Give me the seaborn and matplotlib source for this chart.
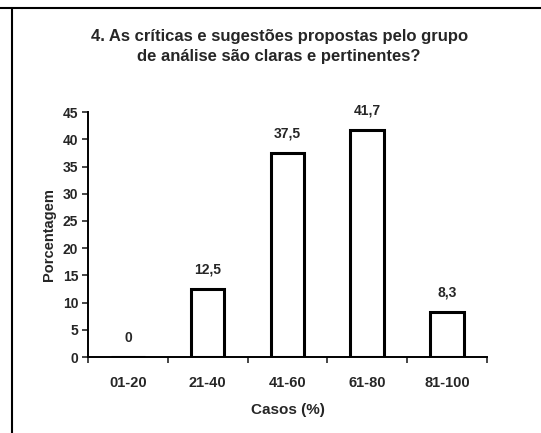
import matplotlib
matplotlib.use("Agg")
import matplotlib.pyplot as plt
import seaborn as sns
import pandas as pd
import numpy as np
from matplotlib.lines import Line2D

categories = ["01-20", "21-40", "41-60", "61-80", "81-100"]
values = [0, 12.5, 37.5, 41.7, 8.3]
value_labels = ["0", "12,5", "37,5", "41,7", "8,3"]
yticks = [0, 5, 10, 15, 20, 25, 30, 35, 40, 45]

title = "4. As críticas e sugestões propostas pelo grupo\nde análise são claras e pertinentes?"
xlabel = "Casos (%)"
ylabel = "Porcentagem"

sns.set_style("ticks")
plt.rcParams["font.family"] = ["Liberation Sans", "DejaVu Sans"]

df = pd.DataFrame({"cat": categories, "val": values})

fig = plt.figure(figsize=(5.41, 4.33), dpi=100)
ax = fig.add_axes([0.1627, 0.1755, 0.9 - 0.1627, 0.741 - 0.1755])

sns.barplot(data=df, x="cat", y="val", color="white", edgecolor="black",
            linewidth=2.2, width=0.42, ax=ax, saturation=1)

ax.set_xlim(-0.5, 4.5)
ax.set_ylim(0, 45)
ax.set_yticks(yticks)
ax.set_yticklabels([str(t) for t in yticks], fontsize=10, fontweight="bold")
ax.set_xticks(range(len(categories)))
ax.set_xticklabels(categories, fontsize=10.5, fontweight="bold")
ax.set_xticks(np.arange(-0.5, len(categories), 1.0), minor=True)
ax.tick_params(axis="x", which="major", length=0, pad=14)
ax.tick_params(axis="x", which="minor", length=4, width=1.2, direction="out")
ax.tick_params(axis="y", length=4, width=1.2, direction="out", pad=3)

for s in ["top", "right"]:
    ax.spines[s].set_visible(False)
for s in ["left", "bottom"]:
    ax.spines[s].set_linewidth(1.4)
    ax.spines[s].set_color("black")

ax.set_xlabel(xlabel, fontsize=11, fontweight="bold", labelpad=9)
ax.set_ylabel(ylabel, fontsize=10.5, fontweight="bold", labelpad=5)

ax.bar_label(ax.containers[0], labels=value_labels, padding=9,
             fontsize=10, fontweight="bold")

fig.text(0.516, 0.893, title, ha="center", va="center", fontsize=12,
         fontweight="bold", linespacing=1.45)

fig.add_artist(Line2D([0, 1], [0.9815, 0.9815], color="black", lw=1.5,
                      transform=fig.transFigure))
fig.add_artist(Line2D([0.022, 0.022], [0, 0.9815], color="black", lw=1.5,
                      transform=fig.transFigure))

fig.savefig("out.png", dpi=100)
